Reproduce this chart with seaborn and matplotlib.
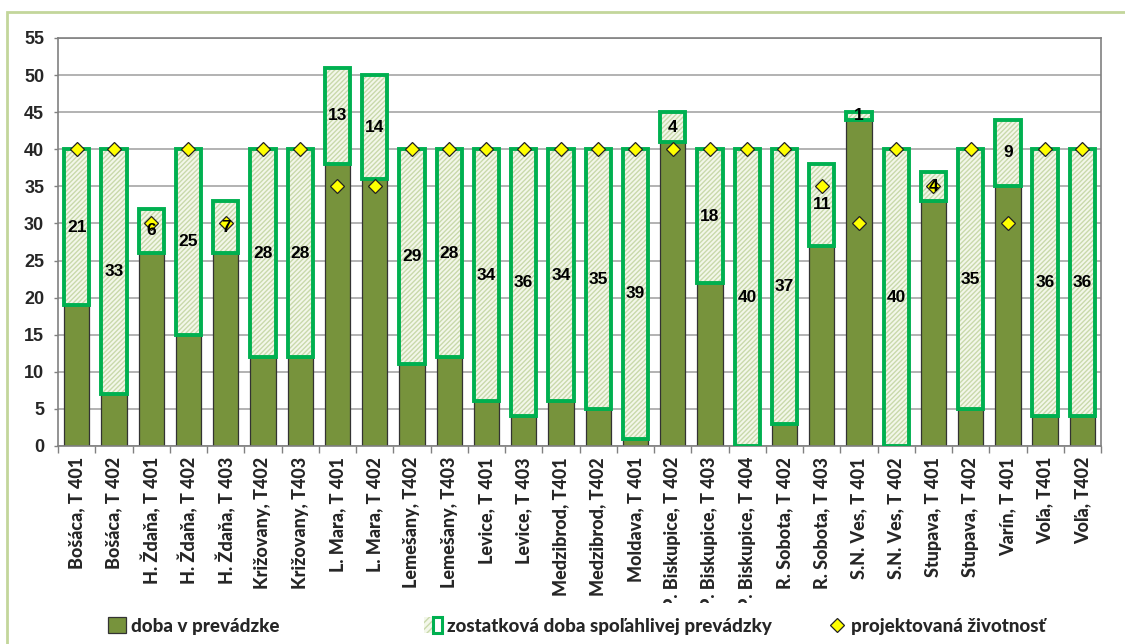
import numpy as np
import pandas as pd
import matplotlib
matplotlib.use("Agg")
import matplotlib.pyplot as plt
import seaborn as sns
from matplotlib.patches import Patch, Rectangle
from matplotlib.lines import Line2D
from matplotlib.legend_handler import HandlerTuple
from matplotlib.transforms import Bbox, TransformedBbox

# Transformer stations
sites = [
    "Bošáca, T 401", "Bošáca, T 402", "H. Ždaňa, T 401", "H. Ždaňa, T 402",
    "H. Ždaňa, T 403", "Križovany, T402", "Križovany, T403", "L. Mara, T 401",
    "L. Mara, T 402", "Lemešany, T402", "Lemešany, T403", "Levice, T 401",
    "Levice, T 403", "Medzibrod, T401", "Medzibrod, T402", "Moldava, T 401",
    "P. Biskupice, T 402", "P. Biskupice, T 403", "P. Biskupice, T 404",
    "R. Sobota, T 402", "R. Sobota, T 403", "S.N. Ves, T 401", "S.N. Ves, T 402",
    "Stupava, T 401", "Stupava, T 402", "Varín, T 401", "Voľa, T401", "Voľa, T402",
]
# years in operation
in_operation = [19, 7, 26, 15, 26, 12, 12, 38, 36, 11, 12, 6, 4, 6, 5, 1,
                41, 22, 0, 3, 27, 44, 0, 33, 5, 35, 4, 4]
# remaining years of reliable operation
remaining = [21, 33, 6, 25, 7, 28, 28, 13, 14, 29, 28, 34, 36, 34, 35, 39,
             4, 18, 40, 37, 11, 1, 40, 4, 35, 9, 36, 36]
# designed service life
design_life = [40, 40, 30, 40, 30, 40, 40, 35, 35, 40, 40, 40, 40, 40, 40, 40,
               40, 40, 40, 40, 35, 30, 40, 35, 40, 30, 40, 40]

legend_labels = ["doba v prevádzke",
                 "zostatková doba spoľahlivej prevádzky",
                 "projektovaná životnosť"]

OLIVE = "#77933c"
BRIGHT = "#00b050"
HATCH_FACE = "#f3f7ea"
HATCH_LINE = "#c9d9ab"
GRID = "#a6a6a6"

sns.set_theme(style="white")
plt.rcParams["hatch.linewidth"] = 1.0
LABEL_FONT = ["Lato", "Open Sans", "DejaVu Sans"]
NUM_FONT = ["Liberation Sans", "DejaVu Sans"]

fig = plt.figure(figsize=(11.25, 6.44), dpi=100)
ax = fig.add_axes([0.0516, 0.3075, 0.9271, 0.6335])

df = pd.DataFrame({"site": sites, "years": in_operation})
width = 0.68
x = np.arange(len(sites))

sns.barplot(data=df, x="site", y="years", order=sites, color=OLIVE,
            saturation=1, width=width, edgecolor="#333333", linewidth=0.9,
            ax=ax, zorder=2, errorbar=None)

# remaining-life segment stacked on top: hatched fill, then bright outline
bottoms = np.array(in_operation)
ax.bar(x, remaining, bottom=bottoms, width=width, color=HATCH_FACE,
       edgecolor=HATCH_LINE, hatch="///////", linewidth=0, zorder=3)
ax.bar(x, remaining, bottom=bottoms, width=width, fill=False,
       edgecolor=BRIGHT, linewidth=2.8, zorder=4)

# designed life markers
ax.plot(x, design_life, linestyle="none", marker="D", markersize=7.5,
        markerfacecolor="#ffff00", markeredgecolor="#222222",
        markeredgewidth=0.9, zorder=5)

# value labels in the middle of the remaining segment
for xi, b, r in zip(x, in_operation, remaining):
    ax.text(xi, b + r / 2, f"{r}", ha="center", va="center",
            fontsize=12.5, fontweight="bold", family=NUM_FONT,
            color="black", zorder=6)

ax.set_xlim(-0.5, len(sites) - 0.5)
ax.set_ylim(0, 55)
ax.set_yticks(np.arange(0, 56, 5))
ax.set_yticklabels([str(v) for v in range(0, 56, 5)], fontsize=13,
                   fontweight="bold", family=NUM_FONT)
ax.set_xticks(x)
ax.set_xticklabels(sites, rotation=90, fontsize=13, fontweight=900,
                   family=LABEL_FONT, va="top", ha="center")
ax.set_xticks(np.arange(-0.5, len(sites), 1), minor=True)
ax.tick_params(axis="x", which="major", length=0, pad=8)
ax.tick_params(axis="x", which="minor", length=5, width=1, color="#808080",
               direction="out", bottom=True)
ax.tick_params(axis="y", length=3, width=1, color="#808080", left=True, pad=7)
ax.set_xlabel("")
ax.set_ylabel("")

ax.yaxis.grid(True, color=GRID, linewidth=1.2, zorder=0)
ax.set_axisbelow(True)
for s in ax.spines.values():
    s.set_color("#808080")
    s.set_linewidth(1.2)

# outer chart frame
fig.patches.append(Rectangle((7 / 1125, -0.2), 1.2, 1.2 - 12 / 644,
                             transform=fig.transFigure, fill=False,
                             edgecolor="#c3d69b", linewidth=2))

# legend entries
h_op = Patch(facecolor=OLIVE, edgecolor="#333333", linewidth=0.9)
h_rem = (Patch(facecolor=HATCH_FACE, edgecolor=HATCH_LINE, hatch="/////", linewidth=0),
         Patch(fill=False, edgecolor=BRIGHT, linewidth=2.2))
h_life = Line2D([], [], linestyle="none", marker="D", markersize=7,
                markerfacecolor="#ffff00", markeredgecolor="#222222",
                markeredgewidth=0.9)
legend_y = 1 - 626 / 644
for handle, label, xpx in zip([h_op, h_rem, h_life], legend_labels,
                              [108, 424, 828]):
    fig.legend([handle], [label], loc="center left",
               bbox_to_anchor=(xpx / 1125, legend_y), frameon=False,
               handler_map={tuple: HandlerTuple(ndivide=None)},
               handlelength=0.95, handleheight=0.95, handletextpad=0.3,
               borderpad=0, borderaxespad=0,
               prop={"family": LABEL_FONT, "weight": 900, "size": 13.5})

# long station names are cut off above the legend area
fig.canvas.draw()
clip = TransformedBbox(Bbox([[0, 1 - 603 / 644], [1, 1]]), fig.transFigure)
for lbl in ax.get_xticklabels():
    lbl.set_clip_on(True)
    lbl.set_clip_box(clip)

fig.savefig("out.png", dpi=100)
